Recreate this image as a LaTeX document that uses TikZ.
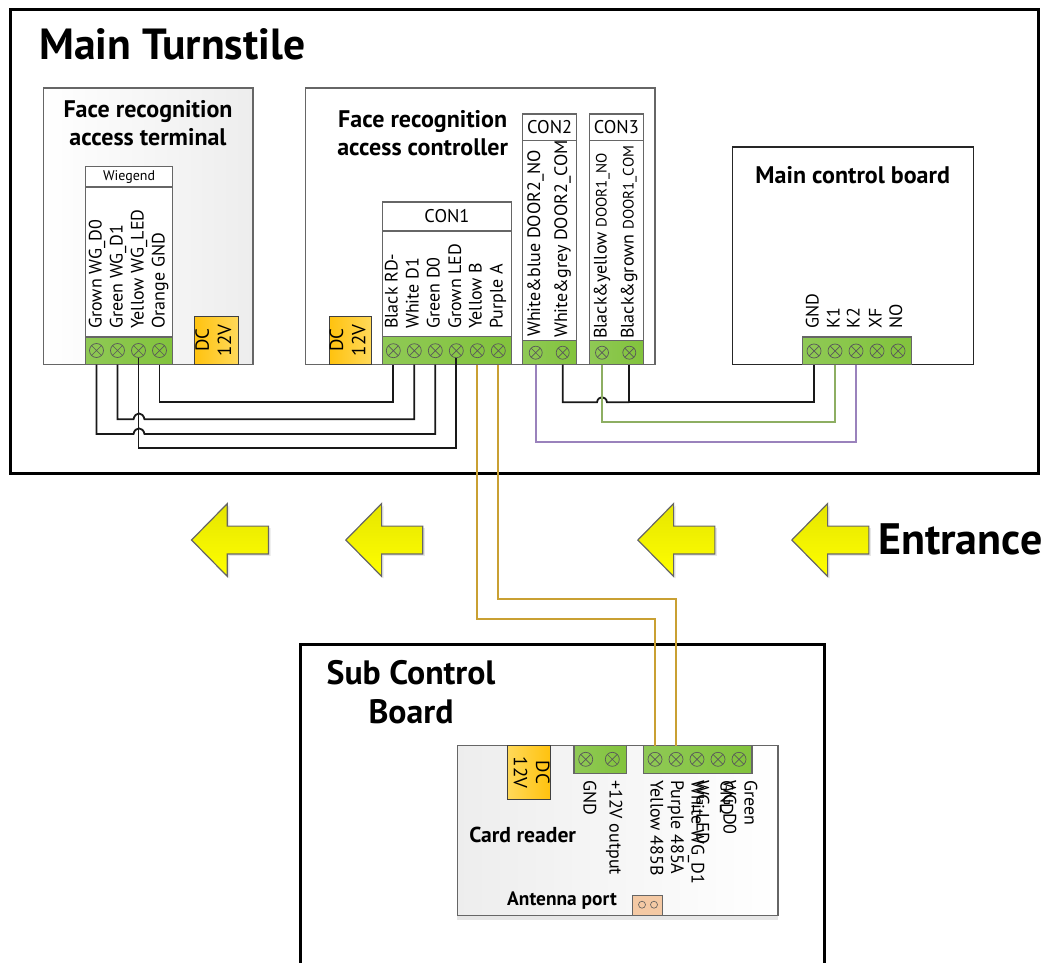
\documentclass[tikz,border=0pt]{standalone}
\usepackage{fontspec}
\setmainfont{PT Sans}
\usetikzlibrary{positioning, shadows, shapes.arrows}
\definecolor{boxgrey}{HTML}{666666}
\definecolor{pingreen}{HTML}{8FC955}
\definecolor{pingreenb}{HTML}{82C33C}
\definecolor{dcdark}{HTML}{FFC20E}
\definecolor{dclight}{HTML}{FFD95A}
\definecolor{wireyellow}{HTML}{C9A033}
\definecolor{wiregreen}{HTML}{8DAE62}
\definecolor{wirepurple}{HTML}{9A82BC}
\definecolor{antenna}{HTML}{F4C9A4}
\newcommand{\fsize}[1]{\fontsize{#1}{#1}\selectfont}
\tikzset{node distance=21pt,
  plainbox/.style={draw=boxgrey,line width=1.2pt,fill=white,inner sep=0pt,outer sep=0pt,font=\fsize{18.4}},
  pinstrip/.style={draw=boxgrey,line width=1.2pt,left color=pingreen,right color=pingreenb,inner sep=0pt,outer sep=0pt},
  dcbox/.style={draw=black!75,line width=1pt,inner sep=0pt,outer sep=0pt,font=\fsize{19}},
  screw/.style={circle,draw=black!65,line width=.7pt,minimum size=14pt,inner sep=0pt,outer sep=0pt,
    path picture={\draw[black!65,line width=.7pt] (path picture bounding box.north west) -- (path picture bounding box.south east)
      (path picture bounding box.south west) -- (path picture bounding box.north east);}},
  pinlabel/.style={rotate=90,anchor=west,inner sep=0pt,text height=13pt,text depth=4pt,font=\fsize{18}},
  pinlabeldown/.style={rotate=-90,anchor=west,inner sep=0pt,text height=13pt,text depth=4pt,font=\fsize{18}},
  boxtitle/.style={align=center,inner sep=0pt,font=\bfseries\fontsize{24}{28}\selectfont},
  wire/.style={draw=black!90,line width=1.8pt},
  passarrow/.style={single arrow,shape border rotate=180,draw=black!60,line width=1.2pt,top color=yellow!90!black,bottom color=yellow,
    minimum height=77pt,minimum width=72pt,inner sep=0pt,inner ysep=13.3pt,single arrow head extend=22.5pt,single arrow tip angle=91,
    single arrow head indent=0pt,anchor=tip,drop shadow={shadow xshift=2pt,shadow yshift=-2pt,opacity=.2}}}

\begin{document}
\begin{tikzpicture}[x=1pt,y=-1pt]
\useasboundingbox (0,0) rectangle (1046,963);
% main turnstile
\node[draw=black,line width=3pt,minimum width=1028pt,minimum height=463pt,inner sep=0pt,outer sep=0pt] (turnstile) at (524,241.5) {};
\node[anchor=west,inner sep=0pt,font=\bfseries\fsize{43.6}] (turnstiletitle) at (39,44) {Main Turnstile};

% access terminal
\node[plainbox,left color=white,right color=black!7,minimum width=209.5pt,minimum height=276.5pt] (terminal) at (148.25,226.25) {};
\node[boxtitle] (terminaltitle) at (148,123.5) {Face recognition\\access terminal};
\node[plainbox,minimum width=86.8pt,minimum height=20.3pt,font=\fsize{14}] (wghead) at (129.1,177) {Wiegend};
\node[plainbox,minimum width=86.8pt,minimum height=150pt] (wgbody) at (129.1,262) {};
\node[pinstrip,minimum width=86.8pt,minimum height=27.6pt] (wgpins) at (129.1,350.7) {};
\node[screw] (t1) at (96.5,350.5) {};
\node[screw,right of=t1] (t2) {};
\node[screw,right of=t2] (t3) {};
\node[screw,right of=t3] (t4) {};
\node[pinlabel] (lt1) at (97,329) {Grown WG\_D0};
\node[pinlabel] (lt2) at (118,329) {Green WG\_D1};
\node[pinlabel] (lt3) at (139,329) {Yellow WG\_LED};
\node[pinlabel] (lt4) at (160,329) {Orange GND};
\node[dcbox,left color=dcdark,right color=dclight,minimum width=44pt,minimum height=48.5pt] (dcterminal) at (216,340.3)
  {\rotatebox{90}{\begin{tabular}{@{}c@{}}DC\\[3pt]12V\end{tabular}}};

% access controller
\node[plainbox,minimum width=349.4pt,minimum height=276.6pt] (controller) at (480.3,226.3) {};
\node[boxtitle] (controllertitle) at (422.7,133) {Face recognition\\access controller};
\node[dcbox,left color=dcdark,right color=dclight,minimum width=42.5pt,minimum height=48.5pt] (dccontroller) at (350.3,340.3)
  {\rotatebox{90}{\begin{tabular}{@{}c@{}}DC\\[3pt]12V\end{tabular}}};
\node[plainbox,minimum width=128.6pt,minimum height=29pt] (con1head) at (447,216.5) {CON1};
\node[plainbox,minimum width=128.6pt,minimum height=105.7pt] (con1body) at (447,283.9) {};
\node[pinstrip,minimum width=128.6pt,minimum height=27.9pt] (con1pins) at (447,350.7) {};
\node[screw] (c1) at (393.3,350.7) {};
\node[screw,right of=c1] (c2) {};
\node[screw,right of=c2] (c3) {};
\node[screw,right of=c3] (c4) {};
\node[screw,right of=c4] (c5) {};
\node[screw,right of=c5] (c6) {};
\node[pinlabel] (lc1) at (393,329) {Black RD-};
\node[pinlabel] (lc2) at (414,329) {White D1};
\node[pinlabel] (lc3) at (435,329) {Green D0};
\node[pinlabel] (lc4) at (456.5,329) {Grown LED};
\node[pinlabel] (lc5) at (477,329) {Yellow B};
\node[pinlabel] (lc6) at (498,329) {Purple A};
\node[plainbox,minimum width=54pt,minimum height=26.7pt] (con2head) at (549.7,127.4) {CON2};
\node[plainbox,minimum width=54pt,minimum height=200pt] (con2body) at (549.7,240.7) {};
\node[pinstrip,minimum width=54pt,minimum height=24pt] (con2pins) at (549.7,352.7) {};
\node[screw,minimum size=13pt] (d1) at (535.7,352.7) {};
\node[screw,minimum size=13pt,right of=d1,node distance=27pt] (d2) {};
\node[pinlabel] (ld1) at (535.7,337) {White\&blue DOOR2\_NO};
\node[pinlabel] (ld2) at (562.5,338) {White\&grey DOOR2\_COM};
\node[plainbox,minimum width=54pt,minimum height=26.7pt] (con3head) at (616.3,127.4) {CON3};
\node[plainbox,minimum width=54pt,minimum height=200pt] (con3body) at (616.3,240.7) {};
\node[pinstrip,minimum width=54pt,minimum height=24pt] (con3pins) at (616.3,352.7) {};
\node[screw,minimum size=13pt] (e1) at (602,352.7) {};
\node[screw,minimum size=13pt,right of=e1,node distance=27.3pt] (e2) {};
\node[pinlabel] (le1) at (602,339) {Black\&yellow {\fsize{15}DOOR1\_NO}};
\node[pinlabel] (le2) at (629,339) {Black\&grown {\fsize{15}DOOR1\_COM}};

% main control board
\node[plainbox,draw=black!85,minimum width=241pt,minimum height=217.7pt] (mainboard) at (852.8,255.85) {};
\node[boxtitle] (mainboardtitle) at (852.7,175) {Main control board};
\node[pinstrip,minimum width=109pt,minimum height=27.7pt] (mainpins) at (857.2,350.85) {};
\node[screw] (m1) at (814,351) {};
\node[screw,right of=m1] (m2) {};
\node[screw,right of=m2] (m3) {};
\node[screw,right of=m3] (m4) {};
\node[screw,right of=m4] (m5) {};
\node[pinlabel] (lm1) at (814,329) {GND};
\node[pinlabel] (lm2) at (835,329) {K1};
\node[pinlabel] (lm3) at (855,329) {K2};
\node[pinlabel] (lm4) at (877,329) {XF};
\node[pinlabel] (lm5) at (897.5,329) {NO};

% direction of passage
\node[passarrow] (pass1) at (190.7,540) {};
\node[passarrow] (pass2) at (345,540) {};
\node[passarrow] (pass3) at (637,540) {};
\node[passarrow] (pass4) at (791,540) {};
\node[anchor=west,inner sep=0pt,font=\bfseries\fsize{44}] (entrance) at (878,539) {Entrance};

% sub control board
\draw[black,line width=3pt] (300,963) -- (300,644) -- (824,644) -- (824,963);
\node[align=center,inner sep=0pt,font=\bfseries\fontsize{33.8}{39}\selectfont] (subtitle) at (411,692) {Sub Control\\Board};
\node[plainbox,left color=black!7,right color=white,minimum width=320.7pt,minimum height=170pt,
  drop shadow={shadow xshift=0pt,shadow yshift=-4pt,opacity=.2}] (cardreader) at (617.65,830.7) {};
\node[dcbox,left color=dclight,right color=dcdark,minimum width=43pt,minimum height=53.6pt] (dccard) at (528.8,772.5)
  {\rotatebox{-90}{\begin{tabular}{@{}c@{}}DC\\[3pt]12V\end{tabular}}};
\node[pinstrip,minimum width=52.7pt,minimum height=27.6pt] (powerpins) at (600.35,759.5) {};
\node[screw] (g1) at (585.7,759.3) {};
\node[screw,right of=g1,node distance=26.6pt] (g2) {};
\node[pinstrip,minimum width=108.7pt,minimum height=27.6pt] (cardpins) at (697.65,759.5) {};
\node[screw] (p1) at (655,759.3) {};
\node[screw,right of=p1] (p2) {};
\node[screw,right of=p2] (p3) {};
\node[screw,right of=p3] (p4) {};
\node[screw,right of=p4] (p5) {};
\node[pinlabeldown] (lg1) at (588,780) {GND};
\node[pinlabeldown] (lg2) at (614,780) {+12V output};
\node[pinlabeldown] (lp1) at (655,780) {Yellow 485B};
\node[pinlabeldown] (lp2) at (675.5,780) {Purple 485A};
\node[pinlabeldown] (lp3) at (696,780) {White WG\_D1};
\node[pinlabeldown] (lp3b) at (701,780) {WG\_LED};
\node[pinlabeldown] (lp4) at (725,780) {GND};
\node[pinlabeldown] (lp4b) at (728,780) {WG\_D0};
\node[pinlabeldown] (lp5) at (749,780) {Green};
\node[inner sep=0pt,font=\bfseries\fsize{21.6}] (cardtitle) at (522.7,835) {Card reader};
\node[inner sep=0pt,font=\bfseries\fsize{19.4}] (antennatitle) at (562,901) {Antenna port};
\node[draw=boxgrey,line width=1.2pt,fill=antenna,minimum width=30pt,minimum height=20pt,inner sep=0pt,outer sep=0pt] (antennaport) at (647.7,905.8) {};
\node[circle,draw=black!65,line width=.6pt,minimum size=7pt,inner sep=0pt] (a1) at (642,904.7) {};
\node[circle,draw=black!65,line width=.6pt,minimum size=7pt,inner sep=0pt] (a2) at (654,904.7) {};

% wires from terminal to controller
\draw[wire] (t4 |- wgpins.south) -- (t4 |- 0,402) -- (c1 |- 0,402) -- (c1 |- con1pins.south);
\draw[wire] (t2 |- wgpins.south) -- (t2 |- 0,419.3) -- (133.5,419.3) .. controls (135,411.5) and (143,411.5) .. (144.5,419.3) -- (c2 |- 0,419.3) -- (c2 |- con1pins.south);
\draw[wire] (t1 |- wgpins.south) -- (t1 |- 0,434) -- (133.5,434) .. controls (135,426.5) and (143,426.5) .. (144.5,434) -- (c3 |- 0,434) -- (c3 |- con1pins.south);
\draw[wire] (t3.south) -- (t3 |- 0,448.3) -- (c4 |- 0,448.3) -- (c4.south);
% wires from controller to main board
\draw[wire] (d2 |- con2pins.south) -- (d2 |- 0,402.3) -- (597,402.3) .. controls (598,395.5) and (606,395.5) .. (607,402.3) -- (e2 |- 0,402.3);
\draw[wire,line width=2.3pt] (e2 |- con3pins.south) -- (e2 |- 0,402.3) -- (m1 |- 0,402.3) -- (m1 |- mainpins.south);
\draw[wire,wiregreen] (e1 |- con3pins.south) -- (e1 |- 0,422) -- (m2 |- 0,422) -- (m2 |- mainpins.south);
\draw[wire,wirepurple] (d1 |- con2pins.south) -- (d1 |- 0,441.7) -- (m3 |- 0,441.7) -- (m3 |- mainpins.south);
% wires from controller to card reader
\draw[wire,wireyellow,line width=2.3pt] (c5 |- con1pins.south) -- (c5 |- 0,619) -- (p1 |- 0,619) -- (p1 |- cardpins.north);
\draw[wire,wireyellow,line width=2.3pt] (c6 |- con1pins.south) -- (c6 |- 0,599) -- (p2 |- 0,599) -- (p2 |- cardpins.north);
\end{tikzpicture}
\end{document}
